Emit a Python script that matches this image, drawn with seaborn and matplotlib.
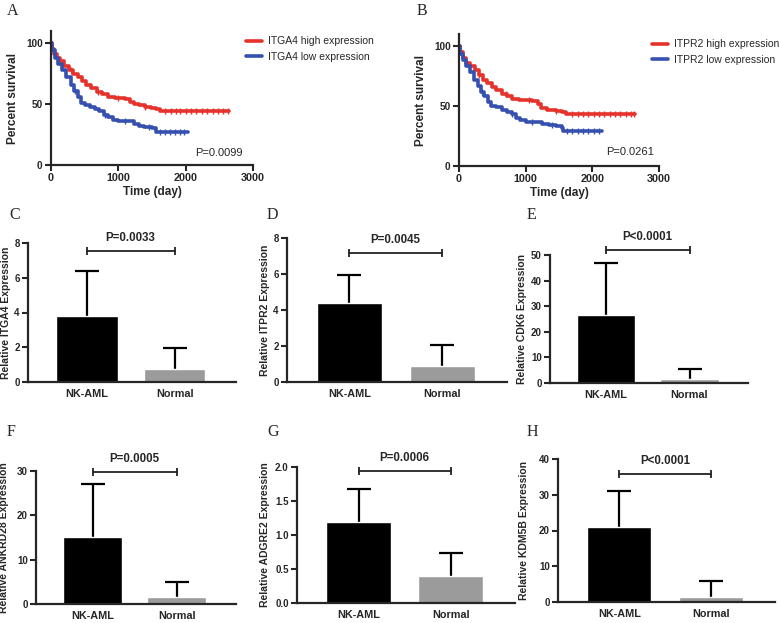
import numpy as np
import pandas as pd
import matplotlib
matplotlib.use("Agg")
import matplotlib.pyplot as plt
import seaborn as sns

# survival curves (time in days, percent survival)
itga4_high_t = [0, 20, 50, 90, 140, 200, 260, 330, 400, 460, 520, 600, 680, 760, 850, 950,
                1100, 1180, 1230, 1300, 1400, 1480, 1560, 1620, 2640]
itga4_high_s = [100, 95, 91, 88, 85, 81, 78, 75, 72, 69, 66, 63, 60, 58, 56, 55,
                54, 52, 50, 49, 48, 47, 46, 44.5, 44.5]
itga4_low_t = [0, 20, 60, 110, 170, 230, 290, 340, 400, 450, 500, 580, 650, 720, 790, 850,
               920, 1000, 1180, 1230, 1300, 1380, 1500, 1560, 2030]
itga4_low_s = [100, 94, 88, 83, 78, 72, 66, 61, 56, 51, 49, 48, 46, 44, 41, 39,
               37, 36, 36, 34, 32, 31, 30, 27, 27]
itpr2_high_t = [0, 20, 60, 110, 170, 240, 300, 360, 420, 490, 560, 640, 720, 800, 900,
                1100, 1180, 1230, 1320, 1450, 1540, 1610, 2640]
itpr2_high_s = [100, 95, 90, 86, 83, 80, 76, 72, 69, 66, 63, 60, 58, 56, 55,
                54, 52, 48, 47, 46, 45, 43, 43]
itpr2_low_t = [0, 20, 60, 110, 170, 230, 280, 330, 380, 430, 480, 560, 640, 720, 790, 850,
               920, 1000, 1180, 1250, 1350, 1450, 1540, 1560, 2140]
itpr2_low_s = [100, 93, 88, 83, 78, 72, 67, 62, 58, 53, 50, 49, 47, 45, 43, 40,
               38, 37, 37, 35, 34, 33, 32, 29.5, 29.5]

# censor marks (days)
itga4_high_cens = [300, 700, 1000, 1400, 1700, 1780, 1850, 1920, 2000, 2080, 2160, 2240,
                   2320, 2400, 2480, 2560, 2630]
itga4_low_cens = [350, 800, 1100, 1450, 1620, 1700, 1770, 1840, 1910, 1980]
itpr2_high_cens = [300, 700, 1050, 1450, 1700, 1780, 1860, 1940, 2020, 2100, 2180, 2260,
                   2340, 2420, 2500, 2580, 2630]
itpr2_low_cens = [350, 800, 1100, 1400, 1620, 1700, 1780, 1860, 1940, 2020, 2100]

# bar charts: mean and upper error
groups = ["NK-AML", "Normal"]
itga4_mean = [3.8, 0.72]
itga4_err = [2.57, 1.25]
itpr2_mean = [4.41, 0.89]
itpr2_err = [1.53, 1.15]
cdk6_mean = [26.4, 1.56]
cdk6_err = [20.6, 3.9]
ankrd28_mean = [15.15, 1.65]
ankrd28_err = [11.85, 3.35]
adgre2_mean = [1.185, 0.39]
adgre2_err = [0.485, 0.35]
kdm5b_mean = [21.1, 1.4]
kdm5b_err = [10.0, 4.5]

RED = "#e5322b"
BLUE = "#3650b0"
SANS = "Liberation Sans"
SERIF = "Liberation Serif"

sns.set_style("ticks")
plt.rcParams["font.family"] = [SANS, "DejaVu Sans"]

fig = plt.figure(figsize=(7.79, 6.23), dpi=100)
W, H = 779, 623


def px_axes(left, top, right, bottom):
    ax = fig.add_axes([left / W, 1 - bottom / H, (right - left) / W, (bottom - top) / H])
    ax._px = (left, right)
    return ax


def place_ylabel(ax, x_px):
    left, right = ax._px
    ax.yaxis.set_label_coords((x_px - left) / (right - left), 0.5)


def style_axes(ax, xsize=8, ysize=7):
    sns.despine(ax=ax)
    for s in ["left", "bottom"]:
        ax.spines[s].set_linewidth(1.6)
    ax.tick_params(width=1.5, length=4, pad=2)
    ax.tick_params(axis="x", labelsize=xsize)
    ax.tick_params(axis="y", labelsize=ysize)
    for lbl in ax.get_xticklabels() + ax.get_yticklabels():
        lbl.set_fontweight("bold")


def step_value(t, s, x):
    i = np.searchsorted(t, x, side="right") - 1
    return np.asarray(s)[i]


def draw_survival(ax, curves, pval, pxy, label_x):
    for t, s, cens, color, label in curves:
        df = pd.DataFrame({"time": t, "surv": s})
        sns.lineplot(data=df, x="time", y="surv", ax=ax, color=color, lw=2.6,
                     drawstyle="steps-post", estimator=None, label=label)
        cy = step_value(t, s, cens)
        ax.plot(cens, cy, ls="none", marker="|", ms=4, mew=1.0, color=color)
    ax.set_xlim(0, 3000)
    ax.set_ylim(0, 110)
    ax.set_xticks([0, 1000, 2000, 3000])
    ax.set_yticks([0, 50, 100])
    ax.set_xlabel("Time (day)", fontsize=8.5, fontweight="bold", labelpad=2)
    ax.set_ylabel("Percent survival", fontsize=8.5, fontweight="bold")
    place_ylabel(ax, label_x)
    style_axes(ax, xsize=7.8, ysize=7.2)
    ax.text(pxy[0], pxy[1], pval, fontsize=8, ha="center", va="center")
    ax.legend(loc="upper left", bbox_to_anchor=(0.92, 1.03), frameon=False,
              fontsize=7.5, handlelength=1.5, labelspacing=0.55, handletextpad=0.6)


def draw_bar(ax, means, errs, ylim, yticks, ylabel, label_x, bracket_y, ptext, fmt=None):
    df = pd.DataFrame({"group": groups, "value": means})
    sns.barplot(data=df, x="group", y="value", hue="group", order=groups,
                palette=["#000000", "#9b9b9b"], width=0.7, legend=False, ax=ax,
                errorbar=None, saturation=1)
    tops = np.add(means, errs)
    ax.vlines([0, 1], means, tops, color="black", lw=1.6, zorder=0.5)
    ax.plot([0, 1], tops, ls="none", marker="_", ms=17, mew=1.6, color="black", zorder=0.5)
    ax.set_xlim(-0.67, 1.7)
    ax.set_ylim(*ylim)
    ax.set_yticks(yticks)
    if fmt:
        ax.set_yticklabels([fmt.format(v) for v in yticks])
    ax.set_xlabel("")
    ax.set_ylabel(ylabel, fontsize=7.5, fontweight="bold")
    place_ylabel(ax, label_x)
    style_axes(ax, xsize=7.8, ysize=7)
    ax.tick_params(axis="x", length=0, pad=5)
    ax.plot([0, 1], [bracket_y, bracket_y], color="#222222", lw=1.3, marker="|",
            ms=6, mew=1.3, clip_on=False)
    ax.annotate(ptext, (0.5, bracket_y), xytext=(0, 5), textcoords="offset points",
                ha="center", va="bottom", fontsize=8.3, fontweight="bold",
                annotation_clip=False)


# panel A and B
axA = px_axes(51, 31, 253, 165)
draw_survival(axA, [(itga4_high_t, itga4_high_s, itga4_high_cens, RED, "ITGA4 high expression"),
                    (itga4_low_t, itga4_low_s, itga4_low_cens, BLUE, "ITGA4 low expression")],
              "P=0.0099", (2500, 10), 19)
axB = px_axes(459, 34, 659, 166)
draw_survival(axB, [(itpr2_high_t, itpr2_high_s, itpr2_high_cens, RED, "ITPR2 high expression"),
                    (itpr2_low_t, itpr2_low_s, itpr2_low_cens, BLUE, "ITPR2 low expression")],
              "P=0.0261", (2560, 12), 427)

# panels C-H
axC = px_axes(28, 243, 236, 382)
draw_bar(axC, itga4_mean, itga4_err, (0, 8), [0, 2, 4, 6, 8],
         "Relative ITGA4 Expression", 11, 7.52, "P=0.0033")
axD = px_axes(287, 238, 507, 382)
draw_bar(axD, itpr2_mean, itpr2_err, (0, 8), [0, 2, 4, 6, 8],
         "Relative ITPR2 Expression", 270, 7.17, "P=0.0045")
axE = px_axes(550, 255, 748, 383)
draw_bar(axE, cdk6_mean, cdk6_err, (0, 50), [0, 10, 20, 30, 40, 50],
         "Relative CDK6 Expression", 527, 52.1, "P<0.0001")
axF = px_axes(36, 471, 236, 604)
draw_bar(axF, ankrd28_mean, ankrd28_err, (0, 30), [0, 10, 20, 30],
         "Relative ANKRD28 Expression", 9, 29.8, "P=0.0005")
axG = px_axes(297, 467, 515, 603)
draw_bar(axG, adgre2_mean, adgre2_err, (0, 2), [0, 0.5, 1.0, 1.5, 2.0],
         "Relative ADGRE2 Expression", 270, 1.94, "P=0.0006", fmt="{:.1f}")
axH = px_axes(558, 459, 775, 602)
draw_bar(axH, kdm5b_mean, kdm5b_err, (0, 40), [0, 10, 20, 30, 40],
         "Relative KDM5B Expression", 529, 35.8, "P<0.0001")

# panel letters
letters = {"A": (7, 11), "B": (417, 11), "C": (9, 215), "D": (267, 215), "E": (527, 215),
           "F": (7, 432), "G": (267, 432), "H": (527, 432)}
for k, (x, y) in letters.items():
    fig.text(x / W, 1 - y / H, k, fontsize=11.5, family=SERIF, ha="left", va="center")

fig.savefig("out.png", dpi=100)
